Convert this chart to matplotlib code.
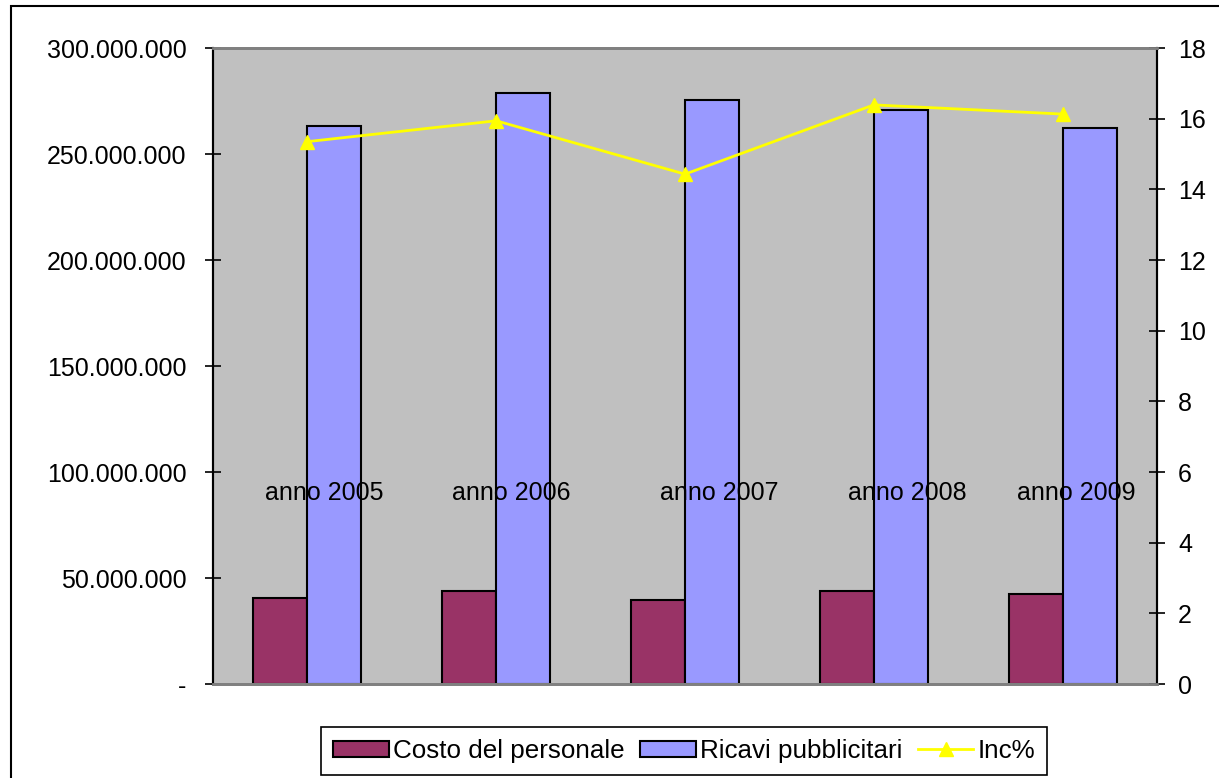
import matplotlib.pyplot as plt
import matplotlib.ticker as mticker
from matplotlib.patches import Rectangle
import numpy as np

plt.rcParams['font.family'] = ['Liberation Sans', 'DejaVu Sans']

# data
years = ["anno 2005", "anno 2006", "anno 2007", "anno 2008", "anno 2009"]
costo = [40.4e6, 44.0e6, 39.5e6, 44.0e6, 42.3e6]
ricavi = [263.2e6, 278.6e6, 275.5e6, 270.8e6, 262.3e6]
inc = [15.35, 15.94, 14.43, 16.39, 16.13]

# the category labels sit a bit off-centre in the original
label_shift = [0.09, 0.08, 0.18, 0.175, 0.07]

fig = plt.figure(figsize=(12.19, 7.78), dpi=100)
ax = fig.add_axes([213 / 1219, 94 / 778, 944 / 1219, 636 / 778])
ax.set_facecolor("#C0C0C0")

x = np.arange(len(years))
w = 1 / 3.5
ax.bar(x - w / 2, costo, w, color="#993366", edgecolor="black", linewidth=1.5,
       label="Costo del personale")
ax.bar(x + w / 2, ricavi, w, color="#9999FF", edgecolor="black", linewidth=1.5,
       label="Ricavi pubblicitari")
ax.set_xlim(-0.5, len(years) - 0.5)
ax.set_ylim(0, 300e6)
ax.set_yticks(np.arange(0, 300e6 + 1, 50e6))


def fmt_left(v, pos):
    if v == 0:
        return "-"
    return f"{int(v):,}".replace(",", ".")


ax.yaxis.set_major_formatter(mticker.FuncFormatter(fmt_left))
ax.tick_params(axis="y", direction="inout", length=11.5, width=1.2, pad=13.5,
               labelsize=18)
ax.set_xticks([])

for i, lab in enumerate(years):
    ax.text(i + label_shift[i], 90e6, lab, ha="center", va="center", fontsize=18)

ax2 = ax.twinx()
ax2.plot(x, inc, color="#FFFF00", linewidth=2, marker="^", markersize=10,
         label="Inc%")
ax2.set_ylim(0, 18)
ax2.set_yticks(np.arange(0, 19, 2))
ax2.tick_params(axis="y", direction="inout", length=11.5, width=1.2, pad=9.5,
                labelsize=18)
ax2.patch.set_visible(False)

for a in (ax, ax2):
    a.spines["left"].set_color("black")
    a.spines["right"].set_color("black")
    a.spines["left"].set_linewidth(1.5)
    a.spines["right"].set_linewidth(1.5)
    a.spines["top"].set_color("#808080")
    a.spines["bottom"].set_color("#808080")
    a.spines["top"].set_linewidth(2)
    a.spines["bottom"].set_linewidth(2)

h1, l1 = ax.get_legend_handles_labels()
h2, l2 = ax2.get_legend_handles_labels()
leg = fig.legend(h1 + h2, l1 + l2, loc="center", bbox_to_anchor=(684 / 1219, 1 - 751 / 778),
                 ncol=3, fontsize=18.7, frameon=True, fancybox=False, framealpha=1,
                 edgecolor="black", handlelength=2.15, handleheight=0.6,
                 handletextpad=0.15, columnspacing=0.6, borderpad=0.45,
                 borderaxespad=0)
leg.get_frame().set_linewidth(1.2)

# outer chart border (only top and left visible)
fig.patches.append(Rectangle((11 / 1219, -0.1), 1.2, 0.1 + (778 - 6) / 778,
                             transform=fig.transFigure, fill=False,
                             edgecolor="black", linewidth=1.5))

fig.savefig("out.png", dpi=100)
